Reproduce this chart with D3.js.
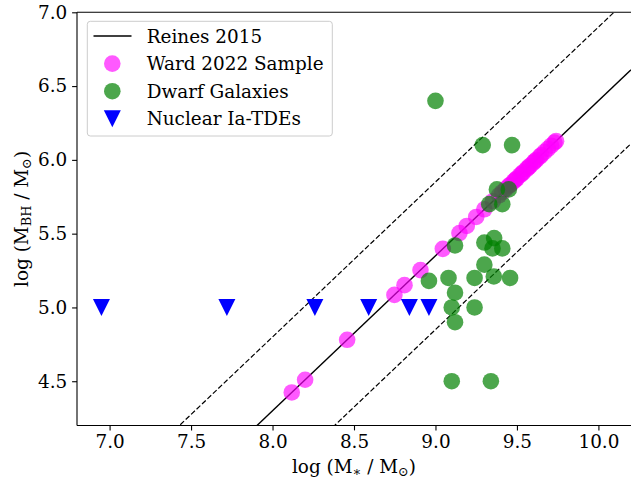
<!DOCTYPE html>
<html><head><meta charset="utf-8">
<script src="https://cdn.jsdelivr.net/npm/d3@7"></script>
<style>
body{margin:0;background:#fff}
svg{display:block}
</style>
</head><body>
<script>
// ---- data ----
const wardX = [8.118, 8.20, 8.458, 8.748, 8.81, 8.908, 9.045, 9.147, 9.192, 9.25, 9.30, 9.352, 9.39,
  9.41, 9.43, 9.45, 9.46, 9.48, 9.49, 9.50, 9.52, 9.53, 9.54, 9.56, 9.57, 9.58, 9.60, 9.61, 9.62,
  9.64, 9.65, 9.67, 9.69, 9.71, 9.73, 9.74];
const wardY = [4.424, 4.51, 4.781, 5.085, 5.151, 5.253, 5.397, 5.504, 5.552, 5.613, 5.665, 5.72, 5.76,
  5.781, 5.802, 5.823, 5.833, 5.854, 5.865, 5.875, 5.896, 5.907, 5.917, 5.938, 5.949, 5.959, 5.98, 5.991, 6.001,
  6.022, 6.033, 6.054, 6.075, 6.096, 6.117, 6.127];
const dwarfX = [9.00, 9.29, 9.47, 9.377, 9.45, 9.33, 9.41, 9.12, 9.30, 9.36, 9.35, 9.41, 9.30,
  8.96, 9.08, 9.24, 9.358, 9.458, 9.12, 9.10, 9.24, 9.12, 9.10, 9.34];
const dwarfY = [6.40, 6.10, 6.10, 5.80, 5.80, 5.70, 5.70, 5.42, 5.44, 5.47, 5.40, 5.40, 5.29,
  5.18, 5.20, 5.20, 5.21, 5.20, 5.10, 5.00, 5.00, 4.90, 4.50, 4.50];
const tdeX = [6.95, 7.72, 8.26, 8.59, 8.84, 8.96];
const tdeY = [5.0, 5.0, 5.0, 5.0, 5.0, 5.0];
const xTicks = [7.0, 7.5, 8.0, 8.5, 9.0, 9.5, 10.0];
const yTicks = [4.5, 5.0, 5.5, 6.0, 6.5, 7.0];
const xDomain = [6.8, 10.2];
const yDomain = [4.2, 7.0];
// Reines 2015 relation: log MBH = 7.45 + 1.05 (log M* - 11), +/- 0.5 dex
const reinesA = 7.45, reinesB = 1.05, reinesPivot = 11, reinesScatter = 0.5;
const legendLabels = ["Reines 2015", "Ward 2022 Sample", "Dwarf Galaxies", "Nuclear Ia-TDEs"];

// ---- layout ----
const W = 631, H = 483;
const L = 77, R = 631, T = 12.3, B = 425.5;
const FS = 18.4;
const FF = "DejaVu Serif";
const svg = d3.select("body").append("svg").attr("width", W).attr("height", H)
  .attr("font-family", FF);
const x = d3.scaleLinear().domain(xDomain).range([L, R]);
const y = d3.scaleLinear().domain(yDomain).range([B, T]);

svg.append("defs").append("clipPath").attr("id", "clip")
  .append("rect").attr("x", L).attr("y", T).attr("width", R - L).attr("height", B - T);
const plot = svg.append("g").attr("clip-path", "url(#clip)");

const rel = (v, off) => reinesA + off + reinesB * (v - reinesPivot);
const lineGen = d3.line().x(d => x(d[0])).y(d => y(d[1]));
[[0, null], [reinesScatter, "5.2,2.3"], [-reinesScatter, "5.2,2.3"]].forEach(([off, dash]) => {
  const pts = xDomain.map(v => [v, rel(v, off)]);
  plot.append("path").attr("d", lineGen(pts)).attr("fill", "none")
    .attr("stroke", "#000").attr("stroke-width", dash ? 1.2 : 1.4)
    .attr("stroke-dasharray", dash);
});

const MAG = "#ff00ff", GRN = "#008000", BLU = "#0000ff";
const rC = 8.3;
plot.selectAll("circle.ward").data(wardX).join("circle").attr("class", "ward")
  .attr("cx", d => x(d)).attr("cy", (d, i) => y(wardY[i])).attr("r", rC)
  .attr("fill", MAG).attr("fill-opacity", 0.65);
plot.selectAll("circle.dwarf").data(dwarfX).join("circle").attr("class", "dwarf")
  .attr("cx", d => x(d)).attr("cy", (d, i) => y(dwarfY[i])).attr("r", rC)
  .attr("fill", GRN).attr("fill-opacity", 0.7);
const h = 8.5;
const tri = `M${-h},${-h}L${h},${-h}L0,${h}Z`;
plot.selectAll("path.tde").data(tdeX).join("path").attr("class", "tde")
  .attr("d", tri).attr("transform", (d, i) => `translate(${x(d)},${y(tdeY[i])})`)
  .attr("fill", BLU);

// ---- axes ----
const xAxis = svg.append("g").attr("transform", `translate(0,${B})`)
  .call(d3.axisBottom(x).tickValues(xTicks).tickFormat(d3.format(".1f")).tickSize(4.9).tickPadding(4.2));
const yAxis = svg.append("g").attr("transform", `translate(${L},0)`)
  .call(d3.axisLeft(y).tickValues(yTicks).tickFormat(d3.format(".1f")).tickSize(4.9).tickPadding(4.9));
[xAxis, yAxis].forEach(g => {
  g.attr("font-family", FF).attr("font-size", FS);
  g.selectAll("text").attr("fill", "#000");
  g.selectAll("line").attr("stroke", "#000").attr("stroke-width", 1.1);
  g.select(".domain").remove();
});
// spines
const sp = svg.append("g").attr("stroke", "#000").attr("stroke-width", 1.1).attr("fill", "none");
sp.append("line").attr("x1", L).attr("x2", R + 1).attr("y1", B).attr("y2", B);
sp.append("line").attr("x1", L).attr("x2", R + 1).attr("y1", T).attr("y2", T);
sp.append("line").attr("x1", L).attr("x2", L).attr("y1", T).attr("y2", B);

// axis labels
const xl = svg.append("text").attr("x", (L + R) / 2).attr("y", 473).attr("text-anchor", "middle").attr("font-size", FS);
xl.append("tspan").text("log (M");
xl.append("tspan").attr("font-size", FS * 0.7).attr("dy", 3).text("∗");
xl.append("tspan").attr("dy", -3).text(" / M");
xl.append("tspan").attr("font-size", FS * 0.7).attr("dy", 3).text("⊙");
xl.append("tspan").attr("dy", -3).text(")");

const yl = svg.append("text").attr("transform", `translate(28,${(T + B) / 2}) rotate(-90)`)
  .attr("text-anchor", "middle").attr("font-size", FS);
yl.append("tspan").text("log (M");
yl.append("tspan").attr("font-size", FS * 0.7).attr("dy", 3).text("BH");
yl.append("tspan").attr("dy", -3).text(" / M");
yl.append("tspan").attr("font-size", FS * 0.7).attr("dy", 3).text("⊙");
yl.append("tspan").attr("dy", -3).text(")");

// ---- legend ----
const lg = svg.append("g");
lg.append("rect").attr("x", 87.3).attr("y", 21.3).attr("width", 245).attr("height", 114.7)
  .attr("rx", 3).attr("fill", "#fff").attr("fill-opacity", 0.8).attr("stroke", "#cccccc").attr("stroke-width", 1);
const ly0 = 36, lstep = 27.6, mx = 112.3;
legendLabels.forEach((lab, i) => {
  const cy = ly0 + i * lstep;
  if (i === 0) lg.append("line").attr("x1", 93.5).attr("x2", 131.5).attr("y1", cy).attr("y2", cy)
    .attr("stroke", "#000").attr("stroke-width", 1.4);
  if (i === 1) lg.append("circle").attr("cx", mx).attr("cy", cy).attr("r", rC).attr("fill", MAG).attr("fill-opacity", 0.65);
  if (i === 2) lg.append("circle").attr("cx", mx).attr("cy", cy).attr("r", rC).attr("fill", GRN).attr("fill-opacity", 0.7);
  if (i === 3) lg.append("path").attr("d", tri).attr("transform", `translate(${mx},${cy})`).attr("fill", BLU);
  lg.append("text").attr("x", 146.7).attr("y", cy + 6.5).attr("font-size", FS).text(lab);
});
</script>
</body></html>
